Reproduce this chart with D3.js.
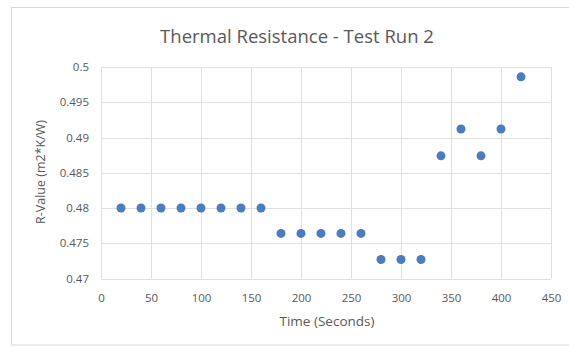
<!DOCTYPE html>
<html><head><meta charset="utf-8">
<script src="https://cdn.jsdelivr.net/npm/d3@7"></script>
<style>body{margin:0;background:#fff}svg{display:block}text{font-family:"Open Sans",sans-serif;fill:#595959}</style>
</head><body>
<script>
const title = "Thermal Resistance - Test Run 2";
const xTitle = "Time (Seconds)";
const yTitle = "R-Value (m2*K/W)";
const times = [20,40,60,80,100,120,140,160,180,200,220,240,260,280,300,320,340,360,380,400,420];
const rValues = [0.48,0.48,0.48,0.48,0.48,0.48,0.48,0.48,0.4764,0.4764,0.4764,0.4764,0.4764,0.4727,0.4727,0.4727,0.4874,0.4912,0.4874,0.4912,0.4986];
const xTicks = [0,50,100,150,200,250,300,350,400,450];
const yTicks = [0.47,0.475,0.48,0.485,0.49,0.495,0.5];

const W=569,H=347;
const svg=d3.select("body").append("svg").attr("width",W).attr("height",H);
svg.append("rect").attr("x",11.5).attr("y",7.5).attr("width",W).attr("height",337.5)
  .attr("fill","#fff").attr("stroke","#d9d9d9");
const m={l:101,r:551,t:67,b:278.5};
const x=d3.scaleLinear().domain([0,450]).range([m.l,m.r]);
const y=d3.scaleLinear().domain([0.47,0.5]).range([m.b,m.t]);

const g=svg.append("g");
g.append("g").selectAll("line").data(yTicks).join("line")
  .attr("x1",m.l).attr("x2",m.r).attr("y1",d=>Math.round(y(d))+0.5).attr("y2",d=>Math.round(y(d))+0.5)
  .attr("stroke","#e0e0e0");
g.append("g").selectAll("line").data(xTicks).join("line")
  .attr("y1",m.t).attr("y2",m.b).attr("x1",d=>Math.round(x(d))+0.5).attr("x2",d=>Math.round(x(d))+0.5)
  .attr("stroke","#e0e0e0");

const xa=d3.axisBottom(x).tickValues(xTicks).tickSize(0).tickPadding(15).tickFormat(d3.format("d"));
const xg=svg.append("g").attr("transform",`translate(0,${m.b})`).call(xa);
xg.select(".domain").remove();
xg.selectAll("text").style("font-size","11.5px").attr("fill","#595959");

const ya=d3.axisLeft(y).tickValues(yTicks).tickSize(0).tickPadding(12).tickFormat(d=>d3.format("")(+d.toFixed(3)));
const yg=svg.append("g").attr("transform",`translate(${m.l},0)`).call(ya);
yg.select(".domain").remove();
yg.selectAll("text").style("font-size","11.5px").attr("fill","#595959");

svg.append("g").selectAll("circle").data(times.map((t,i)=>[t,rValues[i]])).join("circle")
  .attr("cx",d=>x(d[0])).attr("cy",d=>y(d[1])).attr("r",4.5).attr("fill","#4a7dc0");

svg.append("text").attr("x",297).attr("y",43).attr("text-anchor","middle").style("font-size","18.5px").text(title);
svg.append("text").attr("x",327).attr("y",326).attr("text-anchor","middle").style("font-size","13.5px").text(xTitle);
svg.append("text").attr("transform","translate(45,172) rotate(-90)").attr("text-anchor","middle").style("font-size","12.5px").text(yTitle);
</script>
</body></html>
